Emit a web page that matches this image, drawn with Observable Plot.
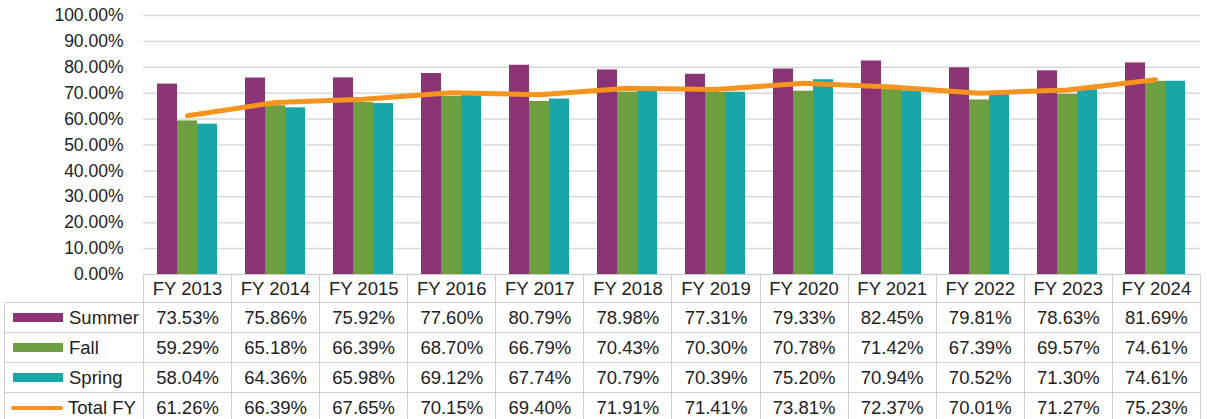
<!DOCTYPE html>
<html>
<head>
<meta charset="utf-8">
<script src="https://cdn.jsdelivr.net/npm/d3@7"></script>
<script src="https://cdn.jsdelivr.net/npm/@observablehq/plot@0.6"></script>
<style>
  html, body { margin: 0; padding: 0; background: #fff; overflow: hidden; }
  #wrap { position: relative; width: 1207px; height: 419px; font-family: "Liberation Sans", Arial, sans-serif; }
  #chart svg { display: block; }
  #tbl { position: absolute; left: 4px; top: 274px; border-collapse: collapse; table-layout: fixed; font-size: 18.5px; color: #222; }
  #tbl td { border: 1.5px solid #d0d0d0; padding: 0; text-align: center; white-space: nowrap; }
  #tbl tr.hdr td { height: 27px; }
  #tbl tr.row td { height: 29px; }
  #tbl td.blank { border-top: none; border-left: none; }
  #tbl td.lab { text-align: left; }
  .sw { display: inline-block; width: 50px; height: 9px; margin: 0 6px 0 8px; vertical-align: middle; position: relative; top: -1px; }
  .ln { display: inline-block; width: 52px; height: 4px; border-radius: 2px; margin: 0 5px 0 6px; vertical-align: middle; position: relative; top: -1px; }
</style>
</head>
<body>
<div id="wrap">
  <div id="chart"></div>
  <table id="tbl"></table>
</div>
<script>
const years = ["FY 2013","FY 2014","FY 2015","FY 2016","FY 2017","FY 2018","FY 2019","FY 2020","FY 2021","FY 2022","FY 2023","FY 2024"];
const summer = [73.53,75.86,75.92,77.60,80.79,78.98,77.31,79.33,82.45,79.81,78.63,81.69];
const fall   = [59.29,65.18,66.39,68.70,66.79,70.43,70.30,70.78,71.42,67.39,69.57,74.61];
const spring = [58.04,64.36,65.98,69.12,67.74,70.79,70.39,75.20,70.94,70.52,71.30,74.61];
const total  = [61.26,66.39,67.65,70.15,69.40,71.91,71.41,73.81,72.37,70.01,71.27,75.23];
const seriesNames = ["Summer","Fall","Spring","Total FY"];
const colors = {Summer: "#8B3375", Fall: "#6E9E3F", Spring: "#19A6A6", "Total FY": "#F7941D"};
const yTicks = [0,10,20,30,40,50,60,70,80,90,100];

const data = years.map((y, i) => ({year: y, summer: summer[i]/100, fall: fall[i]/100, spring: spring[i]/100, total: total[i]/100}));

const chart = Plot.plot({
  width: 1207,
  height: 292,
  marginTop: 15,
  marginBottom: 18,
  marginLeft: 143,
  marginRight: 7,
  style: {fontFamily: "'Liberation Sans', Arial, sans-serif", color: "#222", background: "#fff"},
  x: {domain: years, padding: 0, axis: null},
  y: {domain: [0, 1], axis: null},
  marks: [
    Plot.ruleY(yTicks.map(d => d/100), {stroke: "#d9d9d9", strokeWidth: 1.5}),
    Plot.axisY(yTicks.map(d => d/100), {tickFormat: d3.format(".2%"), tickSize: 0, tickPadding: 20, fontSize: 17.5, fill: "#222"}),
    Plot.barY(data, {x: "year", y: "summer", fill: colors.Summer, insetLeft: 34, insetRight: 34, dx: -21}),
    Plot.barY(data, {x: "year", y: "fall", fill: colors.Fall, insetLeft: 34, insetRight: 34, dx: -1}),
    Plot.barY(data, {x: "year", y: "spring", fill: colors.Spring, insetLeft: 34, insetRight: 34, dx: 19}),
    Plot.lineY(data, {x: "year", y: "total", stroke: colors["Total FY"], strokeWidth: 5, dx: -1, strokeLinecap: "round", strokeLinejoin: "round"})
  ]
});
document.getElementById("chart").appendChild(chart);

// data table beneath the chart
const colW = (1207 - 143 - 7) / years.length;
const tbl = document.getElementById("tbl");
const cg = document.createElement("colgroup");
const c0 = document.createElement("col"); c0.style.width = (143 - 4) + "px"; cg.appendChild(c0);
years.forEach(() => { const c = document.createElement("col"); c.style.width = colW + "px"; cg.appendChild(c); });
tbl.appendChild(cg);
tbl.style.width = (143 - 4 + colW * years.length) + "px";

const hdr = document.createElement("tr"); hdr.className = "hdr";
const blank = document.createElement("td"); blank.className = "blank"; hdr.appendChild(blank);
years.forEach(y => { const td = document.createElement("td"); td.textContent = y; hdr.appendChild(td); });
tbl.appendChild(hdr);

const rows = [summer, fall, spring, total];
seriesNames.forEach((name, r) => {
  const tr = document.createElement("tr"); tr.className = "row";
  const lab = document.createElement("td"); lab.className = "lab";
  const sw = document.createElement("span");
  sw.className = name === "Total FY" ? "ln" : "sw";
  sw.style.background = colors[name];
  lab.appendChild(sw);
  lab.appendChild(document.createTextNode(name));
  tr.appendChild(lab);
  rows[r].forEach(v => { const td = document.createElement("td"); td.textContent = v.toFixed(2) + "%"; tr.appendChild(td); });
  tbl.appendChild(tr);
});
</script>
</body>
</html>
